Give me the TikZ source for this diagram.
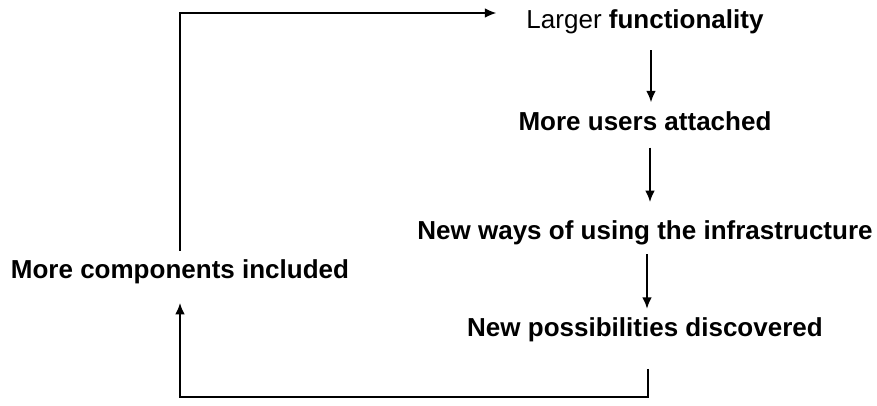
\documentclass[tikz,border=0pt]{standalone}
\usepackage{fontspec}
\setmainfont{Liberation Sans}
\usetikzlibrary{calc, positioning, arrows.meta}

\tikzset{
  stage/.style={font=\fontsize{14.8}{17}\selectfont\bfseries, inner sep=2pt},
  flow/.style={->, line width=1pt, shorten >=3pt, shorten <=3pt},
}

\begin{document}
\begin{tikzpicture}[>={Latex[length=6.5pt,width=5.5pt]}]
  \useasboundingbox (0,0) rectangle (17.54,8.1);
  \node [stage] (larger) at (12.9,7.66) {\mdseries Larger \bfseries functionality};
  \node [stage] (users) at (12.9,5.68) {More users attached};
  \node [stage] (ways) at (12.9,3.44) {New ways of using the infrastructure};
  \node [stage] (possib) at (12.9,1.5) {New possibilities discovered};
  \node [stage] (comp) at (3.6,2.66) {More components included};
  % down the chain
  \draw [flow, shorten <=7pt] ($(larger.south)+(0.12,0)$) -- ($(users.north)+(0.12,0)$);
  \draw [flow, shorten <=7.5pt, shorten >=8.5pt] ($(users.south)+(0.1,0)$) -- ($(ways.north)+(0.1,0)$);
  \draw [flow] ($(ways.south)+(0.04,0)$) -- ($(possib.north)+(0.04,0)$);
  % back round the loop
  \coordinate (low) at (3.6,0.16);
  \draw [flow, shorten <=13pt, shorten >=8.5pt] ($(possib.south)+(0.06,0)$) |- (low) -- (comp.south);
  \coordinate (high) at (3.6,7.84);
  \draw [flow] (comp.north) -- (high) -- ($(high -| larger.west)+(-0.42,0)$);
\end{tikzpicture}
\end{document}
